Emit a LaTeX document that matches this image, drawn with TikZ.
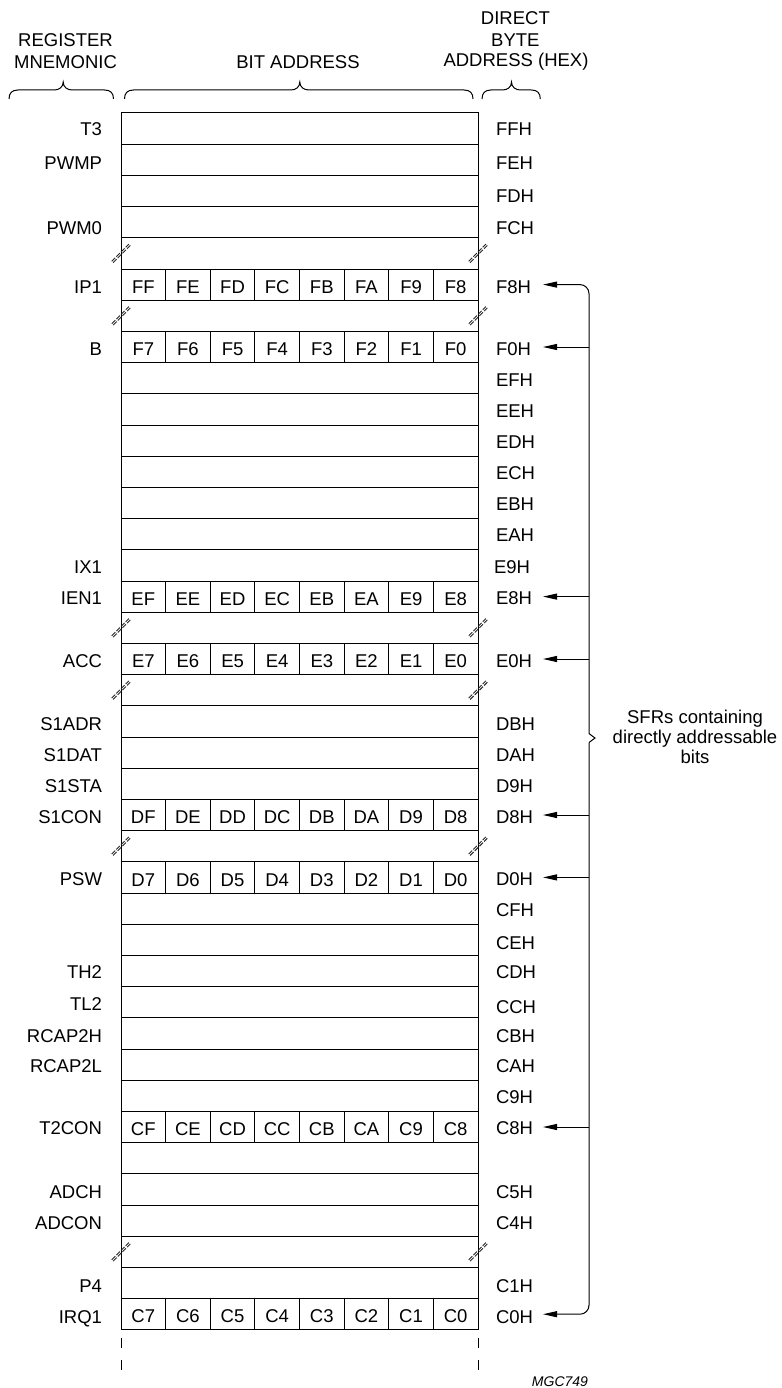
\documentclass[tikz,border=0pt]{standalone}
\usepackage{fontspec}
\setmainfont{Liberation Sans}
\usetikzlibrary{arrows.meta}
\newcommand\ry[1]{(113+(#1-0.5)*31.2)}
\newcommand\fs{\fontsize{18.5}{21}\selectfont}
\begin{document}
\begin{tikzpicture}[x=1pt,y=-1pt,
  rowbox/.style={draw, line width=1pt, minimum width=357pt, minimum height=31.2pt, inner sep=0pt, outer sep=0pt},
  bitcell/.style={draw, line width=1pt, minimum width=44.625pt, minimum height=31.2pt, inner sep=0pt, outer sep=0pt, text height=17.25pt, text depth=0pt, font=\fs},
  txt/.style={inner sep=0pt, outer sep=0pt, text height=13.25pt, text depth=0pt, font=\fs},
  reg/.style={txt, anchor=east},
  hex/.style={txt, anchor=west},
  conn/.style={line width=1pt, -{Triangle[length=14pt,width=6pt]}},
  brkline/.style={black!85, line width=0.9pt, dash pattern=on 5pt off 1.6pt},
  hbr/.style={line width=1pt},
]
\fill[white] (0,0) rectangle (781,1388);
\useasboundingbox (0,0) rectangle (781,1388);

% header
\node[txt] (h1) at (65.5,40) {REGISTER};
\node[txt] (h2) at (65.5,61.7) {MNEMONIC};
\node[txt] (h3) at (298,61.7) {BIT ADDRESS};
\node[txt] (h4) at (515.4,18.3) {DIRECT};
\node[txt] (h5) at (515.4,40) {BYTE};
\node[txt] (h6) at (516,60) {ADDRESS (HEX)};

\newcommand\hbrace[3]{%
 \draw[hbr] (#1,99) .. controls (#1,93) and ({#1+3},90) .. ({#1+9},90) -- ({#2-9},90)
   .. controls ({#2-4},90) and (#2,87) .. (#2,82)
   .. controls (#2,87) and ({#2+4},90) .. ({#2+9},90) -- ({#3-9},90)
   .. controls ({#3-3},90) and (#3,93) .. (#3,99);}
\hbrace{9}{63.2}{113.5}
\hbrace{124.5}{299.8}{473}
\hbrace{482}{511.5}{540.3}

% rows
\foreach \k in {1,...,39}{
  \node[rowbox] (r\k) at (299.5,{\ry{\k}}) {};
}

% bit cells
\newcommand\bits[2]{%
  \foreach \b [count=\i] in {#2}{
    \node[bitcell] (b#1-\i) at ({121+(\i-0.5)*44.625},{\ry{#1}}) {\b};
  }}
\bits{6}{FF,FE,FD,FC,FB,FA,F9,F8}
\bits{8}{F7,F6,F5,F4,F3,F2,F1,F0}
\bits{16}{EF,EE,ED,EC,EB,EA,E9,E8}
\bits{18}{E7,E6,E5,E4,E3,E2,E1,E0}
\bits{23}{DF,DE,DD,DC,DB,DA,D9,D8}
\bits{25}{D7,D6,D5,D4,D3,D2,D1,D0}
\bits{33}{CF,CE,CD,CC,CB,CA,C9,C8}
\bits{39}{C7,C6,C5,C4,C3,C2,C1,C0}

% break marks
\newcommand\brkmark[2]{%
  \draw[brkline] ({#1-9.3},{\ry{#2}+7.9}) -- ({#1+7.9},{\ry{#2}-9.3});
  \draw[brkline] ({#1-7.9},{\ry{#2}+9.3}) -- ({#1+9.3},{\ry{#2}-7.9});}
\foreach \k in {5,7,17,19,24,37}{
  \brkmark{121}{\k}
  \brkmark{478}{\k}
}

% labels
\newcommand\lname[3]{\node[reg] (L#1) at (102,{\ry{#1}+#3}) {#2};}
\newcommand\hname[3]{\node[hex] (R#1) at (496,{\ry{#1}+#3}) {#2};}
\lname{1}{T3}{0.7}      \hname{1}{FFH}{0.7}
\lname{2}{PWMP}{3}      \hname{2}{FEH}{3}
                        \hname{3}{FDH}{5}
\lname{4}{PWM0}{6}      \hname{4}{FCH}{6}
\lname{6}{IP1}{2}       \hname{6}{F8H}{2}
\lname{8}{B}{2}         \hname{8}{F0H}{2}
                        \hname{9}{EFH}{1.5}
                        \hname{10}{EEH}{1.5}
                        \hname{11}{EDH}{1.5}
                        \hname{12}{ECH}{1.5}
                        \hname{13}{EBH}{1}
                        \hname{14}{EAH}{0.5}
\lname{15}{IX1}{1.2}    \node[hex] (R15) at (494,{\ry{15}+1}) {E9H};
\lname{16}{IEN1}{1.5}   \hname{16}{E8H}{1.5}
\lname{18}{ACC}{2}      \hname{18}{E0H}{2}
\lname{20}{S1ADR}{2}    \hname{20}{DBH}{2}
\lname{21}{S1DAT}{2}    \hname{21}{DAH}{2}
\lname{22}{S1STA}{2}    \hname{22}{D9H}{2}
\lname{23}{S1CON}{2}    \hname{23}{D8H}{2}
\lname{25}{PSW}{1.6}    \hname{25}{D0H}{1.6}
                        \hname{26}{CFH}{1.7}
                        \hname{27}{CEH}{3}
\lname{28}{TH2}{1}      \hname{28}{CDH}{1}
\lname{29}{TL2}{2}      \hname{29}{CCH}{4.5}
\lname{30}{RCAP2H}{2.3} \hname{30}{CBH}{2.3}
\lname{31}{RCAP2L}{1.4} \hname{31}{CAH}{1.4}
                        \hname{32}{C9H}{1.5}
\lname{33}{T2CON}{0.5}  \hname{33}{C8H}{0.5}
\lname{35}{ADCH}{2.5}   \hname{35}{C5H}{2.5}
\lname{36}{ADCON}{2.7}  \hname{36}{C4H}{2.7}
\lname{38}{P4}{3}       \hname{38}{C1H}{3}
\lname{39}{IRQ1}{2.5}   \hname{39}{C0H}{2.5}

% dashed continuation
\coordinate (dl1) at (121,1338); \coordinate (dl2) at (121,1370);
\coordinate (dr1) at (478,1338); \coordinate (dr2) at (478,1370);
\draw[line width=1pt, dash pattern=on 10pt off 12pt] (dl1) -- (dl2);
\draw[line width=1pt, dash pattern=on 10pt off 12pt] (dr1) -- (dr2);

% arrows / brace
\foreach \k in {6,8,16,18,23,25,33,39}{
  \coordinate (c\k) at (589,{\ry{\k}});
  \coordinate (t\k) at (543,{\ry{\k}});
}
\coordinate (vtop) at (589,733.5);
\coordinate (vbot) at (589,742.5);
\coordinate (btip) at (595,738);
\draw[conn, rounded corners=9pt] (vtop) -- (c6) -- (t6);
\draw[conn, rounded corners=9pt] (vbot) -- (c39) -- (t39);
\draw[line width=1pt] (vtop) -- (btip) -- (vbot);
\foreach \k in {8,16,18,23,25,33}{
  \draw[conn] (c\k) -- (t\k);
}

\node[font=\fs, anchor=base, inner sep=0pt] (s1) at (695,723) {SFRs containing};
\node[font=\fs, anchor=base, inner sep=0pt] (s2) at (695,743) {directly addressable};
\node[font=\fs, anchor=base, inner sep=0pt] (s3) at (695,763) {bits};

\node[font=\itshape\fontsize{14}{16}\selectfont, anchor=base, inner sep=0pt] (mgc) at (560,1386) {MGC749};
\end{tikzpicture}
\end{document}
